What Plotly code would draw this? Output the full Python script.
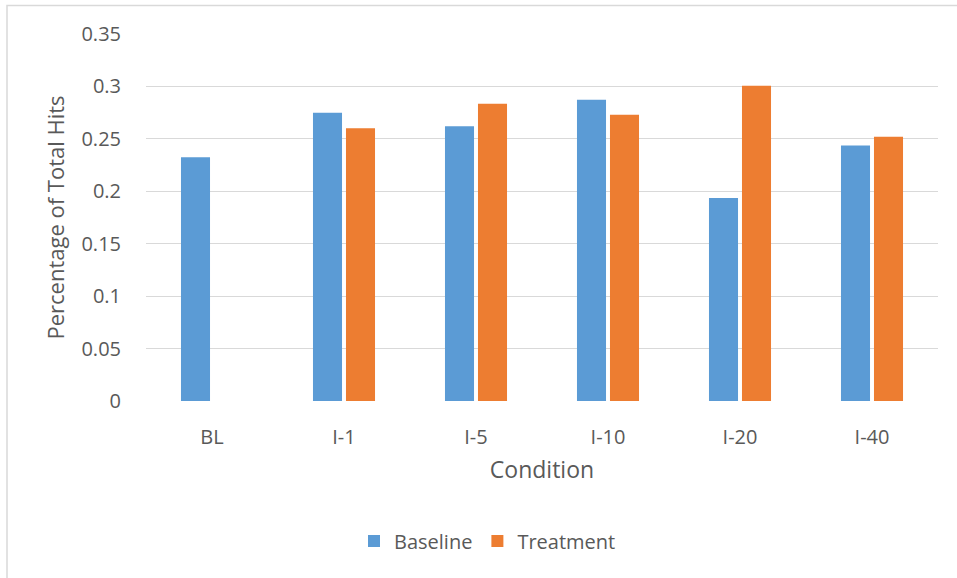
import plotly.graph_objects as go

categories = ["BL", "I-1", "I-5", "I-10", "I-20", "I-40"]
baseline = [0.2325, 0.2748, 0.2621, 0.2872, 0.1937, 0.2436]
treatment = [None, 0.2602, 0.2834, 0.2729, 0.3006, 0.2519]
y_ticks = [0, 0.05, 0.1, 0.15, 0.2, 0.25, 0.3, 0.35]
y_tick_text = ["0", "0.05", "0.1", "0.15", "0.2", "0.25", "0.3", "0.35"]

FONT = "Open Sans"
TXT = "#595959"

fig = go.Figure()
fig.add_trace(go.Bar(x=categories, y=baseline, name="Baseline",
                     marker=dict(color="#5B9BD5", line=dict(width=0))))
fig.add_trace(go.Bar(x=categories, y=treatment, name="Treatment",
                     marker=dict(color="#ED7D31", line=dict(width=0))))

W, H = 957, 578
ml, mr, mt, mb = 146, 19, 34, 177
pw = W - ml - mr
ph = H - mt - mb

fig.update_layout(
    width=W, height=H,
    margin=dict(l=ml, r=mr, t=mt, b=mb, pad=0),
    paper_bgcolor="white", plot_bgcolor="white",
    font=dict(family=FONT, color=TXT, size=20),
    barmode="group", bargap=0.5, bargroupgap=0.12,
    showlegend=True,
    legend=dict(orientation="h", x=(354 - ml) / pw, xanchor="left",
                y=(mt + ph - 541) / ph, yanchor="middle",
                font=dict(size=20, color=TXT), itemwidth=30,
                traceorder="normal"),
    xaxis=dict(showgrid=False, showline=False, zeroline=False,
               ticks="outside", ticklen=18, tickcolor="rgba(0,0,0,0)",
               tickfont=dict(size=20, color=TXT),
               title=dict(text="Condition", font=dict(size=23, color=TXT), standoff=12)),
    yaxis=dict(range=[0, 0.35], tickvals=y_ticks, ticktext=y_tick_text,
               showgrid=True, gridcolor="#D9D9D9", gridwidth=1.3,
               zeroline=False, showline=False,
               ticks="outside", ticklen=20, tickcolor="rgba(0,0,0,0)",
               tickfont=dict(size=20, color=TXT),
               title=dict(text="Percentage of Total Hits", font=dict(size=22, color=TXT), standoff=10)),
)

# chart-area border
fig.add_shape(type="rect", xref="paper", yref="paper",
              x0=(7 - ml) / pw, x1=(W + 5 - ml) / pw,
              y0=(mt + ph - (H + 5)) / ph, y1=(mt + ph - 5.5) / ph,
              line=dict(color="#D9D9D9", width=1.5), fillcolor="rgba(0,0,0,0)", layer="below")

fig.write_html("out.html")
